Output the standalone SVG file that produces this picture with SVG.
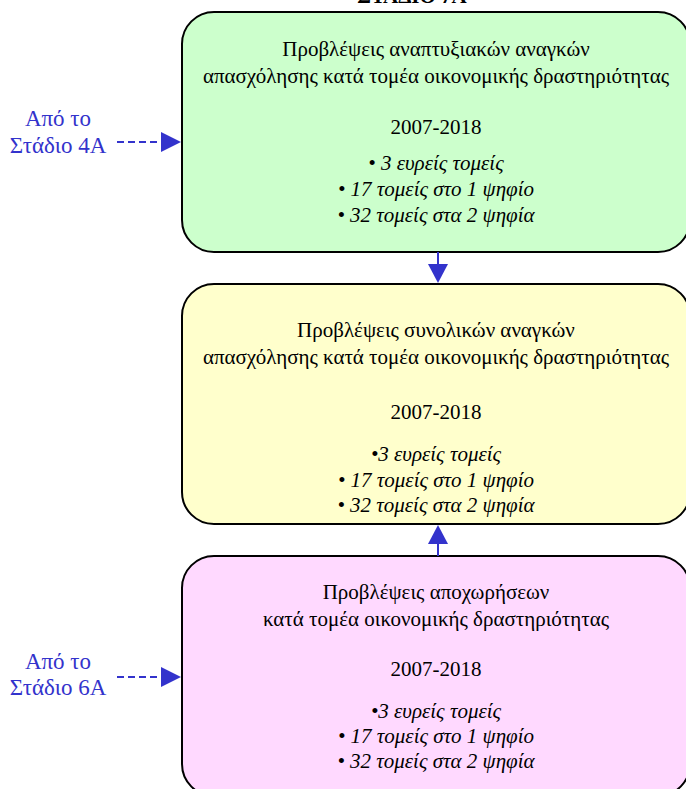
<svg xmlns="http://www.w3.org/2000/svg" width="686" height="789" viewBox="0 0 686 789">
<style>
.box{stroke:#000;stroke-width:2}
.t{font-family:"Liberation Serif","Times New Roman",serif;font-size:21px;fill:#000;text-anchor:middle}
.i{font-style:italic}
.lbl{font-family:"Liberation Serif","Times New Roman",serif;font-size:23px;fill:#3333cc;text-anchor:middle}
.ttl{font-family:"Liberation Serif","Times New Roman",serif;font-size:21px;font-weight:bold;fill:#000;text-anchor:middle}
.dash{stroke:#3333cc;stroke-width:2;stroke-dasharray:7 4;fill:none}
.solid{stroke:#3333cc;stroke-width:2;fill:none}
.head{fill:#3333cc}
</style>
<rect width="686" height="789" fill="#fff"/>
<text class="ttl" x="412" y="3">ΣΤΑΔΙΟ 7Α</text>

<g id="node1">
<rect class="box" x="182" y="12" width="508" height="240" rx="32" ry="32" fill="#ccffcc"/>
<text class="t" x="436" y="56">Προβλέψεις αναπτυξιακών αναγκών</text>
<text class="t" x="436" y="83">απασχόλησης κατά τομέα οικονομικής δραστηριότητας</text>
<text class="t" x="436" y="134">2007-2018</text>
<text class="t i" x="436" y="170">• 3 ευρείς τομείς</text>
<text class="t i" x="436" y="196">• 17 τομείς στο 1 ψηφίο</text>
<text class="t i" x="436" y="222">• 32 τομείς στα 2 ψηφία</text>
</g>

<g id="node2">
<rect class="box" x="182" y="284" width="508" height="240" rx="32" ry="32" fill="#ffffcc"/>
<text class="t" x="436" y="337">Προβλέψεις συνολικών αναγκών</text>
<text class="t" x="436" y="364">απασχόλησης κατά τομέα οικονομικής δραστηριότητας</text>
<text class="t" x="436" y="419">2007-2018</text>
<text class="t i" x="436" y="461">•3 ευρείς τομείς</text>
<text class="t i" x="436" y="487">• 17 τομείς στο 1 ψηφίο</text>
<text class="t i" x="436" y="512">• 32 τομείς στα 2 ψηφία</text>
</g>

<g id="node3">
<rect class="box" x="182" y="556" width="508" height="240" rx="32" ry="32" fill="#ffd9ff"/>
<text class="t" x="436" y="599">Προβλέψεις αποχωρήσεων</text>
<text class="t" x="436" y="626">κατά τομέα οικονομικής δραστηριότητας</text>
<text class="t" x="436" y="676">2007-2018</text>
<text class="t i" x="436" y="718">•3 ευρείς τομείς</text>
<text class="t i" x="436" y="743">• 17 τομείς στο 1 ψηφίο</text>
<text class="t i" x="436" y="768">• 32 τομείς στα 2 ψηφία</text>
</g>

<g id="src4a">
<text class="lbl" x="58" y="126">Από το</text>
<text class="lbl" x="58" y="153">Στάδιο 4Α</text>
</g>
<g id="src6a">
<text class="lbl" x="58" y="669">Από το</text>
<text class="lbl" x="58" y="695">Στάδιο 6Α</text>
</g>

<g id="connectors">
<line class="dash" x1="117" y1="142" x2="162" y2="142"/>
<polygon class="head" points="161,132 181,142 161,152"/>
<line class="dash" x1="117" y1="677" x2="162" y2="677"/>
<polygon class="head" points="161,667 181,677 161,687"/>
<line class="solid" x1="438" y1="252" x2="438" y2="266"/>
<polygon class="head" points="428,264 448,264 438,283"/>
<line class="solid" x1="438" y1="556" x2="438" y2="542"/>
<polygon class="head" points="428,544 448,544 438,525"/>
</g>
</svg>
